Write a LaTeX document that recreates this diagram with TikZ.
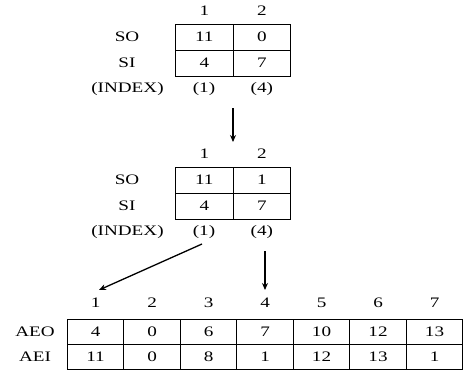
\documentclass[tikz,border=0pt]{standalone}
\usepackage{fontspec}
\setmainfont{Liberation Serif}[FakeStretch=1.32]
\usetikzlibrary{arrows.meta}
\begin{document}
\begin{tikzpicture}[x=1pt,y=-1pt,
  grid/.style={line width=0.8pt},
  txt/.style={font=\fontsize{14.5}{16}\selectfont, inner sep=0pt, anchor=center},
  flow/.style={line width=1.3pt, -{Stealth[length=7pt,width=6pt]}}]
\useasboundingbox (0,0) rectangle (463,380);

% ---- first pair table ----
\draw[grid] (175.7,24) rectangle (290.7,76);
\draw[grid] (175.7,50.5) -- (290.7,50.5);
\draw[grid] (233,24) -- (233,76);
\node[txt] (h11) at (204.3,11) {1};
\node[txt] (h12) at (261.8,11) {2};
\node[txt] (so1) at (127,37) {SO};
\node[txt] (si1) at (127,63) {SI};
\node[txt] (ix1) at (127.5,89) {(INDEX)};
\node[txt] (a11) at (204.3,37) {11};
\node[txt] (a12) at (261.8,37) {0};
\node[txt] (a21) at (204.3,63) {4};
\node[txt] (a22) at (261.8,63) {7};
\node[txt] (i11) at (204,89) {(1)};
\node[txt] (i12) at (261.8,89) {(4)};

\coordinate (d1s) at (233,108);
\coordinate (d1e) at (233,142);
\draw[flow] (d1s) -- (d1e);

% ---- second pair table ----
\draw[grid] (175.7,167.3) rectangle (290.7,219);
\draw[grid] (175.7,193.3) -- (290.7,193.3);
\draw[grid] (233,167.3) -- (233,219);
\node[txt] (h21) at (204.3,154) {1};
\node[txt] (h22) at (261.8,154) {2};
\node[txt] (so2) at (127,180) {SO};
\node[txt] (si2) at (127,206) {SI};
\node[txt] (ix2) at (127.5,232) {(INDEX)};
\node[txt] (b11) at (204.3,180) {11};
\node[txt] (b12) at (261.8,180) {1};
\node[txt] (b21) at (204.3,206) {4};
\node[txt] (b22) at (261.8,206) {7};
\node[txt] (i21) at (204,232) {(1)};
\node[txt] (i22) at (261.8,232) {(4)};

% ---- array table ----
\draw[grid] (67.3,319.5) rectangle (462.5,369.5);
\draw[grid] (67.3,344.5) -- (462.5,344.5);
\foreach \xx in {123.8,180.3,236.8,293.3,349.8,406.3}
  \draw[grid] (\xx,319.5) -- (\xx,369.5);
\node[txt] (aeo) at (35,332) {AEO};
\node[txt] (aei) at (35,357) {AEI};
\foreach \v [count=\i] in {1,2,3,4,5,6,7}
  \node[txt] (c\i) at ({67.3+56.5*(\i-0.5)},303) {\v};
\foreach \v [count=\i] in {4,0,6,7,10,12,13}
  \node[txt] (o\i) at ({67.3+56.5*(\i-0.5)},332) {\v};
\foreach \v [count=\i] in {11,0,8,1,12,13,1}
  \node[txt] (e\i) at ({67.3+56.5*(\i-0.5)},357) {\v};

\coordinate (d2s) at (202,244);
\coordinate (d2e) at (99,290);
\draw[flow] (d2s) -- (d2e);
\coordinate (d3s) at (265,251);
\coordinate (d3e) at (265,290);
\draw[flow] (d3s) -- (d3e);
\end{tikzpicture}
\end{document}
